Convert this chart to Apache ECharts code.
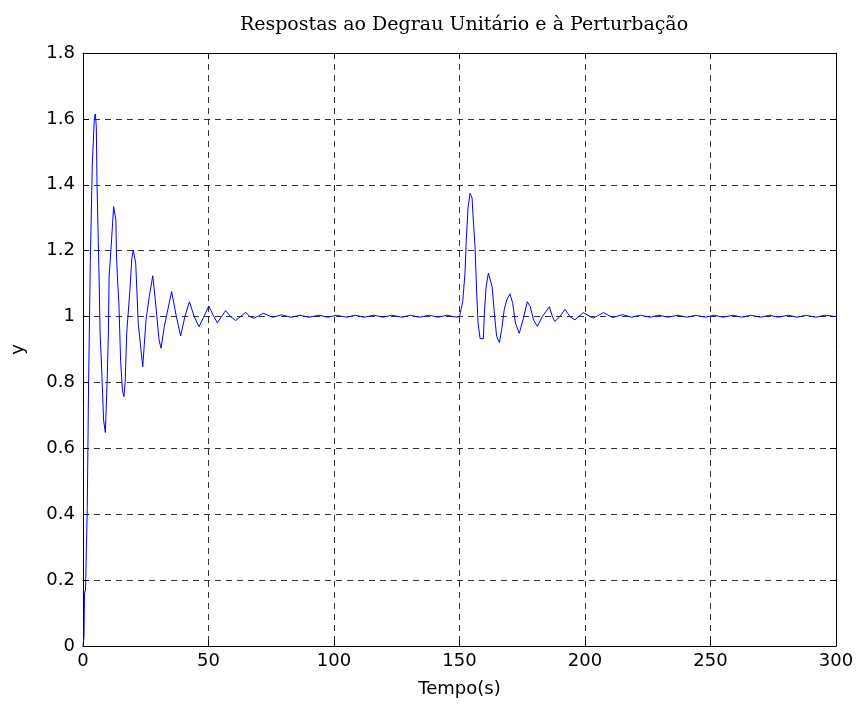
<!DOCTYPE html>
<html>
<head>
<meta charset="utf-8">
<script src="https://cdn.jsdelivr.net/npm/echarts@6/dist/echarts.min.js"></script>
<style>html,body{margin:0;padding:0;background:#fff}#c{width:860px;height:710px}</style>
</head>
<body>
<div id="c"></div>
<script>
// Step response (time in s, output y)
var tStep = [0, 0.4, 0.6, 1.0, 1.6, 1.7, 2.1, 2.2, 2.9, 3.3, 3.7, 4.0, 4.5, 4.9, 5.3, 5.6, 6.2, 6.4, 6.8, 7.3, 8.2, 8.9, 9.3, 9.6, 10.1, 10.4, 11.1, 11.7, 12.2, 12.7, 13.1, 13.3, 13.7, 14.1, 14.3, 15.0, 15.7, 16.3, 16.8, 17.4, 18.7, 19.4, 20.0, 20.4, 21.0, 22.0, 23.1, 23.8, 24.2, 25.1, 26.4, 27.8, 29.0, 30.3, 31.1, 32.4, 33.5, 35.3, 37.2, 38.9, 40.6, 42.4, 44.3, 46.2, 48.2, 50.1, 51.8, 53.5, 55.2, 56.8, 58.8, 60.8, 62.8, 64.8, 66.5, 68.1, 70.0, 71.8, 75.5, 79.0, 83.0, 86.5, 90.0, 94.0, 97.5, 101.0, 105.0, 108.5, 112.0, 116.0, 119.5, 123.0, 127.0, 130.5, 134.0, 138.0, 141.5, 145.0, 148.9];
var yStep = [0, 0.03, 0.16, 0.17, 0.17, 0.42, 0.42, 0.78, 1.16, 1.16, 1.46, 1.46, 1.60, 1.615, 1.577, 1.395, 1.395, 1.12, 0.95, 0.868, 0.686, 0.648, 0.648, 0.80, 0.95, 1.12, 1.12, 1.27, 1.334, 1.334, 1.293, 1.20, 1.12, 1.12, 1.04, 0.863, 0.777, 0.757, 0.80, 0.949, 1.08, 1.172, 1.202, 1.202, 1.162, 0.98, 0.899, 0.848, 0.848, 0.99, 1.06, 1.124, 1.035, 0.929, 0.904, 0.97, 1.01, 1.076, 1.0, 0.941, 1.0, 1.045, 1.0, 0.969, 1.0, 1.032, 1.005, 0.981, 1.0, 1.018, 1.0, 0.988, 1.0, 1.013, 1.0, 0.995, 1.002, 1.010, 0.998, 1.005, 0.998, 1.004, 0.998, 1.004, 0.998, 1.004, 0.998, 1.004, 0.998, 1.004, 0.998, 1.004, 0.998, 1.004, 0.998, 1.004, 0.998, 1.004, 0.998];
// Disturbance response
var tDist = [150.0, 151.3, 152.2, 152.7, 153.4, 154.2, 155.0, 155.5, 156.2, 156.8, 157.4, 158.2, 159.5, 159.9, 160.6, 161.5, 162.2, 163.0, 164.0, 164.8, 165.9, 166.8, 167.8, 168.8, 170.1, 171.2, 172.3, 173.8, 175.3, 177.0, 178.2, 179.5, 181.0, 183.0, 185.8, 187.0, 188.0, 190.0, 192.0, 194.0, 196.0, 197.5, 199.3, 203.3, 207.3, 211.0, 215.0, 218.5, 222.0, 226.0, 229.5, 233.0, 237.0, 240.5, 244.0, 248.0, 251.5, 255.0, 259.0, 262.5, 266.0, 270.0, 273.5, 277.0, 281.0, 284.5, 288.0, 292.0, 295.5, 300.0];
var yDist = [1.0, 1.046, 1.134, 1.233, 1.33, 1.374, 1.36, 1.293, 1.212, 1.08, 0.98, 0.933, 0.933, 1.01, 1.09, 1.132, 1.132, 1.09, 1.0, 0.94, 0.921, 0.96, 1.02, 1.05, 1.069, 1.04, 0.98, 0.949, 0.99, 1.045, 1.03, 0.99, 0.97, 1.0, 1.03, 1.0, 0.985, 1.0, 1.022, 1.0, 0.99, 1.0, 1.012, 0.995, 1.012, 0.997, 1.006, 0.998, 1.004, 0.998, 1.004, 0.998, 1.004, 0.998, 1.004, 0.998, 1.004, 0.998, 1.004, 0.998, 1.004, 0.998, 1.004, 0.998, 1.004, 0.998, 1.004, 0.998, 1.004, 1.0];
var xTicks = [0, 50, 100, 150, 200, 250, 300];
var yTicks = [0, 0.2, 0.4, 0.6, 0.8, 1, 1.2, 1.4, 1.6, 1.8];

var data = [];
for (var i = 0; i < tStep.length; i++) data.push([tStep[i], yStep[i]]);
for (var j = 0; j < tDist.length; j++) data.push([tDist[j], yDist[j]]);

var chart = echarts.init(document.getElementById('c'), null, {renderer: 'canvas'});
var labelFont = {fontFamily: 'DejaVu Sans, Arial, sans-serif', fontSize: 18, color: '#000'};
var grid = {type: [6, 5], color: '#000', width: 0.8};
function yFmt(v) { return (Math.round(v * 10) / 10).toString(); }

chart.setOption({
  animation: false,
  backgroundColor: '#fff',
  title: {
    text: 'Respostas ao Degrau Unitário e à Perturbação',
    left: 459, top: 11, textAlign: 'center',
    textStyle: {fontFamily: 'DejaVu Serif, Liberation Serif, serif', fontSize: 19, fontWeight: 'normal', color: '#000'}
  },
  grid: {left: 83, right: 24, top: 53, bottom: 64, show: false},
  xAxis: [{
    type: 'value', min: 0, max: 300, interval: 50,
    name: 'Tempo(s)', nameLocation: 'middle', nameGap: 34,
    nameTextStyle: labelFont,
    axisLine: {show: true, lineStyle: {color: '#000', width: 1}},
    axisTick: {show: true, inside: true, length: 6, lineStyle: {color: '#000'}},
    axisLabel: Object.assign({margin: 6}, labelFont),
    splitLine: {show: true, lineStyle: grid}
  }, {
    type: 'value', position: 'top', min: 0, max: 300, interval: 50,
    axisLine: {show: true, onZero: false, lineStyle: {color: '#000', width: 1}},
    axisTick: {show: true, inside: true, length: 6, lineStyle: {color: '#000'}},
    axisLabel: {show: false}, splitLine: {show: false}
  }],
  yAxis: [{
    type: 'value', min: 0, max: 1.8, interval: 0.2,
    name: 'y', nameLocation: 'middle', nameGap: 56, nameRotate: 90,
    nameTextStyle: labelFont,
    axisLine: {show: true, onZero: false, lineStyle: {color: '#000', width: 1}},
    axisTick: {show: true, inside: true, length: 6, lineStyle: {color: '#000'}},
    axisLabel: Object.assign({margin: 8, formatter: yFmt}, labelFont),
    splitLine: {show: true, lineStyle: grid}
  }, {
    type: 'value', position: 'right', min: 0, max: 1.8, interval: 0.2,
    axisLine: {show: true, onZero: false, lineStyle: {color: '#000', width: 1}},
    axisTick: {show: true, inside: true, length: 6, lineStyle: {color: '#000'}},
    axisLabel: {show: false}, splitLine: {show: false}
  }],
  series: [{
    type: 'line', xAxisIndex: 0, yAxisIndex: 0,
    data: data, showSymbol: false, smooth: false,
    lineStyle: {color: '#0000ff', width: 1},
    z: 3
  }]
});
</script>
</body>
</html>
